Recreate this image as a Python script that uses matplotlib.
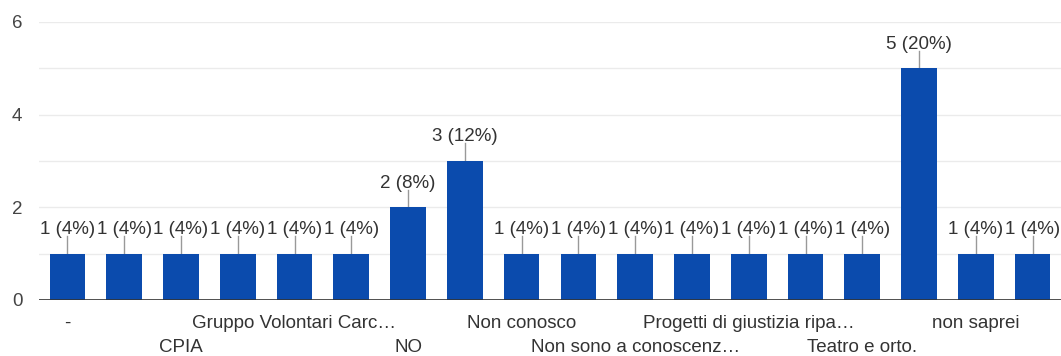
import matplotlib
matplotlib.use("Agg")
import matplotlib.pyplot as plt

# Data
categories = ["-", "", "CPIA", "", "Gruppo Volontari Carc…", "", "NO", "",
              "Non conosco", "", "Non sono a conoscenz…", "", "Progetti di giustizia ripa…", "",
              "Teatro e orto.", "", "non saprei", ""]
values = [1, 1, 1, 1, 1, 1, 2, 3, 1, 1, 1, 1, 1, 1, 1, 5, 1, 1]
total = 25
y_ticks = [0, 2, 4, 6]

plt.rcParams['font.family'] = ['Liberation Sans', 'DejaVu Sans']

fig = plt.figure(figsize=(10.61, 3.56), dpi=100)
ax = fig.add_axes([39/1061, 1 - 300/356, (1061-39)/1061, (300-22)/356])

x = list(range(len(values)))
ax.bar(x, values, width=0.63, color='#0B4BAD', zorder=3)

ax.set_xlim(-0.5, len(values) - 0.5)
ax.set_ylim(0, 6)

# gridlines
for g in range(0, 7):
    ax.axhline(g, color='#ebebeb', lw=1, zorder=1)
ax.axhline(0, color='#333333', lw=1.2, zorder=4)

ax.set_yticks(y_ticks)
ax.set_yticklabels([str(t) for t in y_ticks], fontsize=13.5, color='#444444')
ax.tick_params(axis='y', length=0, pad=12)
ax.tick_params(axis='x', length=0)
ax.set_xticks([])

for s in ax.spines.values():
    s.set_visible(False)

# value labels with leader lines
for i, v in enumerate(values):
    ax.plot([i, i], [v, v + 0.38], color='#999999', lw=1, zorder=2)
    pct = round(v / total * 100)
    ax.text(i, v + 0.34, f"{v} ({pct}%)", ha='center', va='bottom',
            fontsize=13.5, color='#333333', zorder=5)

# category labels, alternating rows
for i, lab in enumerate(categories):
    if not lab:
        continue
    row = (i // 2) % 2
    ypx = 323 if row == 0 else 347
    ax.text(i, -(ypx - 300) / (300 - 22), lab, ha='center', va='center',
            fontsize=13.5, color='#333333',
            transform=ax.get_xaxis_transform(), clip_on=False)

fig.savefig("out.png", dpi=100)
